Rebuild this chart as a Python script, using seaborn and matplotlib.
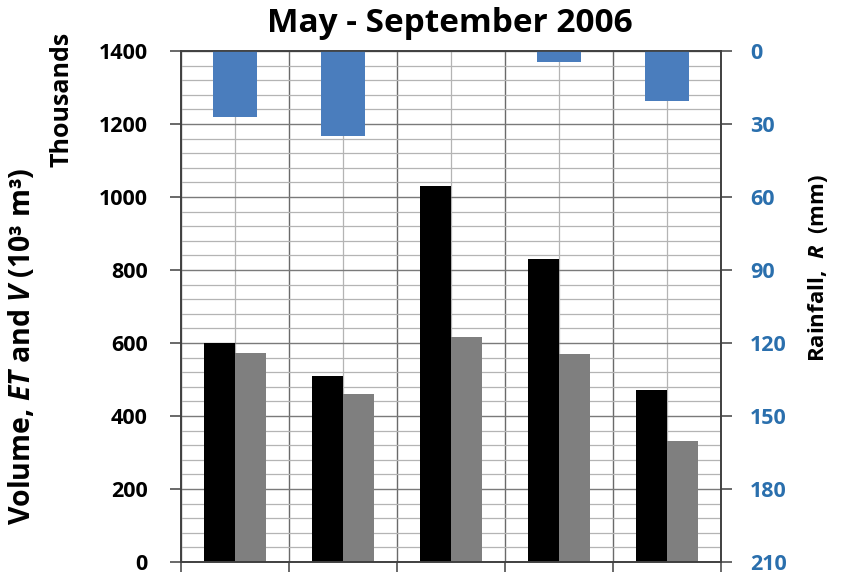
import matplotlib
matplotlib.use("Agg")
import matplotlib.pyplot as plt
from matplotlib.ticker import MultipleLocator, FixedLocator, NullFormatter
import pandas as pd
import seaborn as sns

# Monthly totals, May - September 2006
months = ["May", "Jun", "Jul", "Aug", "Sep"]
volume = [599, 510, 1030, 830, 472]      # V, thousand m3
et = [572, 461, 617, 569, 331]           # ET, thousand m3
rainfall = [27.2, 34.8, 0.0, 4.4, 20.6]  # R, mm

vol_ticks = list(range(0, 1401, 200))
rain_ticks = list(range(0, 211, 30))

sns.set_theme(style="white")
plt.rcParams["font.family"] = ["Open Sans", "DejaVu Sans"]
plt.rcParams["text.color"] = "black"
plt.rcParams["mathtext.fontset"] = "custom"
plt.rcParams["mathtext.rm"] = "Open Sans:weight=bold"
plt.rcParams["mathtext.bf"] = "Open Sans:weight=bold"
plt.rcParams["mathtext.it"] = "Open Sans:style=italic:weight=bold"

vol_df = pd.DataFrame({
    "month": months * 2,
    "series": ["V"] * len(months) + ["ET"] * len(months),
    "value": volume + et,
})
rain_df = pd.DataFrame({"month": months, "rain": rainfall})

fig = plt.figure(figsize=(8.54, 5.75), dpi=100)
ax = fig.add_axes([181 / 854, 1 - 562 / 575, 540 / 854, 511 / 575])

sns.barplot(data=vol_df, x="month", y="value", hue="series", order=months,
            hue_order=["V", "ET"], palette=["#000000", "#7f7f7f"],
            width=0.565, gap=0, saturation=1, legend=False, ax=ax,
            linewidth=0)

ax2 = ax.twinx()
sns.barplot(data=rain_df, x="month", y="rain", order=months, color="#4a7dbd",
            width=0.4, saturation=1, ax=ax2, linewidth=0)

# volume axis
ax.set_ylim(0, 1400)
ax.set_yticks(vol_ticks)
ax.yaxis.set_minor_locator(MultipleLocator(40))
ax.set_xlim(-0.5, 4.5)
ax.xaxis.set_major_locator(FixedLocator([-0.5, 0.5, 1.5, 2.5, 3.5, 4.5]))
ax.xaxis.set_major_formatter(NullFormatter())
ax.xaxis.set_minor_locator(FixedLocator([0, 1, 2, 3, 4]))
ax.set_xlabel("")
ax.set_ylabel("")
ax.set_axisbelow(True)
ax.grid(which="major", axis="y", color="#7a7a7a", linewidth=1.0)
ax.grid(which="minor", axis="y", color="#b4b4b4", linewidth=0.9)
ax.grid(which="major", axis="x", color="#6a6a6a", linewidth=1.0)
ax.grid(which="minor", axis="x", color="#b4b4b4", linewidth=0.9)
ax.tick_params(axis="y", which="major", direction="out", length=8, width=1.1,
               color="#404040", pad=16, labelsize=15.5, labelcolor="black",
               left=True)
ax.tick_params(axis="y", which="minor", length=0)
ax.tick_params(axis="x", which="major", direction="out", length=7, width=1.1,
               color="#404040", bottom=True)
ax.tick_params(axis="x", which="minor", length=0)
for lab in ax.get_yticklabels():
    lab.set_fontweight("bold")

# rainfall axis, inverted so bars hang from the top
ax2.set_ylim(210, 0)
ax2.set_yticks(rain_ticks)
ax2.set_ylabel("")
ax2.set_xlabel("")
ax2.grid(False)
ax2.tick_params(axis="y", direction="out", length=8, width=1.1, color="#404040",
                pad=13, labelsize=15.5, labelcolor="#2a6fad", right=True)
for lab in ax2.get_yticklabels():
    lab.set_fontweight("bold")

for a in (ax, ax2):
    for sp in a.spines.values():
        sp.set_visible(True)
        sp.set_color("#404040")
        sp.set_linewidth(1.2)

fig.text(450 / 854, 1 - 23 / 575, "May - September 2006", ha="center",
         va="center", fontsize=24, fontweight="bold", color="black")
fig.text(22 / 854, 1 - 346 / 575,
         r"Volume, $\mathit{ET}$ and $\mathit{V}$ (10³ m³)", rotation=90,
         ha="center", va="center", fontsize=20.5, fontweight="bold",
         color="black")
fig.text(62 / 854, 1 - 99 / 575, "Thousands", rotation=90, ha="center",
         va="center", fontsize=18, fontweight="bold", color="black")
fig.text(818 / 854, 1 - 268 / 575, r"Rainfall,  $\mathit{R}$  (mm)",
         rotation=90, ha="center", va="center", fontsize=16, fontweight="bold",
         color="black")

fig.savefig("out.png", dpi=100)
